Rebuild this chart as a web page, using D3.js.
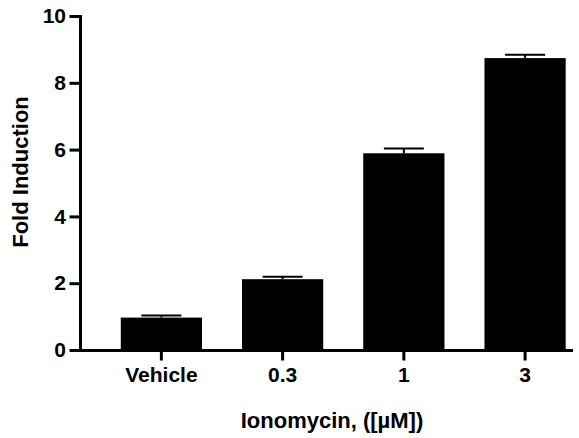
<!DOCTYPE html>
<html>
<head>
<meta charset="utf-8">
<script src="https://cdn.jsdelivr.net/npm/d3@7"></script>
<style>
    body { margin: 0; background: #fff; }
    svg { display: block; font-family: Arial, "Liberation Sans", sans-serif; font-weight: bold; }
</style>
</head>
<body>
<svg id="chart" width="579" height="438"></svg>
<script>
const categories = ['Vehicle', '0.3', '1', '3']
const foldInduction = [0.97, 2.12, 5.89, 8.74]
const sem = [0.06, 0.07, 0.14, 0.10]
const yTicks = [0, 2, 4, 6, 8, 10]

const canvasWidth = 579,
    canvasHeight = 438,
    plot = { left: 80, right: 571, top: 16, bottom: 350 }

const data = categories.map((c, i) => ({ label: c, value: foldInduction[i], err: sem[i] }))

const svg = d3.select('#chart')

const x = d3.scaleBand()
    .domain(categories)
    .range([plot.left, plot.right])
    .paddingInner(0.33)
    .paddingOuter(0.19)
    .align(0.885)

const y = d3.scaleLinear()
    .domain([0, 10])
    .range([plot.bottom, plot.top])

// bars
svg.append('g')
    .selectAll('rect')
    .data(data)
    .enter().append('rect')
    .attr('x', d => x(d.label))
    .attr('y', d => y(d.value))
    .attr('width', x.bandwidth())
    .attr('height', d => y(0) - y(d.value))
    .attr('fill', '#000')

// error bars, upper side only
const err = svg.append('g')
    .attr('stroke', '#000')
    .attr('stroke-width', 2)

err.selectAll('line.stem')
    .data(data)
    .enter().append('line')
    .attr('class', 'stem')
    .attr('x1', d => x(d.label) + x.bandwidth() / 2)
    .attr('x2', d => x(d.label) + x.bandwidth() / 2)
    .attr('y1', d => y(d.value))
    .attr('y2', d => y(d.value + d.err))

err.selectAll('line.cap')
    .data(data)
    .enter().append('line')
    .attr('class', 'cap')
    .attr('x1', d => x(d.label) + x.bandwidth() / 2 - 20)
    .attr('x2', d => x(d.label) + x.bandwidth() / 2 + 20)
    .attr('y1', d => y(d.value + d.err))
    .attr('y2', d => y(d.value + d.err))

// axes
svg.append('g')
    .attr('transform', `translate(${plot.left}, 0)`)
    .call(d3.axisLeft(y).tickValues(yTicks).tickSize(9).tickSizeOuter(0).tickPadding(5))

svg.append('g')
    .attr('transform', `translate(0, ${plot.bottom})`)
    .call(d3.axisBottom(x).tickSize(9).tickSizeOuter(0).tickPadding(8))

svg.selectAll('.domain, .tick line')
    .attr('stroke', '#000')
    .attr('stroke-width', 3)
    .attr('stroke-linecap', 'square')

svg.selectAll('.tick text')
    .attr('fill', '#000')
    .style('font-size', '21px')
    .style('font-weight', 'bold')

// titles
svg.append('text')
    .attr('transform', `translate(28, 172) rotate(-90)`)
    .attr('text-anchor', 'middle')
    .style('font-size', '22px')
    .text('Fold Induction')

svg.append('text')
    .attr('x', 332)
    .attr('y', 428)
    .attr('text-anchor', 'middle')
    .style('font-size', '22px')
    .text('Ionomycin, ([µM])')
</script>
</body>
</html>
